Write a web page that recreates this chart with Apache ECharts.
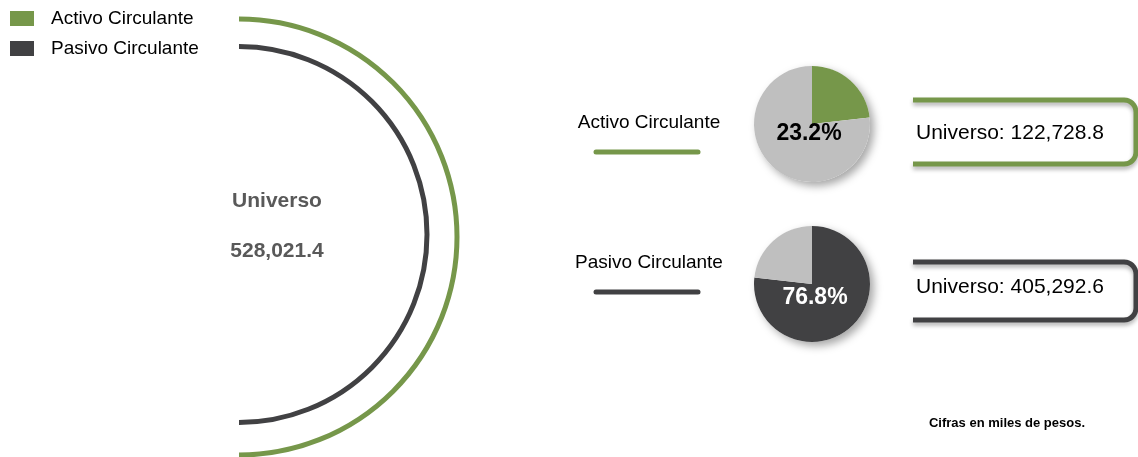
<!DOCTYPE html>
<html>
<head>
<meta charset="utf-8">
<script src="https://cdn.jsdelivr.net/npm/echarts@6/dist/echarts.min.js"></script>
<style>
html,body{margin:0;padding:0;background:#fff;}
#chart{width:1138px;height:457px;}
</style>
</head>
<body>
<div id="chart"></div>
<script>
// ---- data ----
const categories = ['Activo Circulante', 'Pasivo Circulante'];
const sharePct = [23.2, 76.8];
const universoValues = [122728.8, 405292.6];
const universoTotal = 528021.4;
const totalLabel = 'Universo';
const footnote = 'Cifras en miles de pesos.';

// ---- style ----
const GREEN = '#76974A';
const DARK = '#414143';
const GREY = '#BFBFBF';
const FONT = "'Liberation Sans', Arial, sans-serif";
const fmt = v => v.toLocaleString('en-US', {minimumFractionDigits: 1, maximumFractionDigits: 1});

const chart = echarts.init(document.getElementById('chart'));

function bracketPoints(top, bottom) {
  const l = 913, r = 1136, rad = 12;
  const pts = [[l, top], [r - rad, top]];
  for (let k = 1; k <= 8; k++) {
    const a = -Math.PI / 2 + (Math.PI / 2) * k / 8;
    pts.push([r - rad + rad * Math.cos(a), top + rad + rad * Math.sin(a)]);
  }
  pts.push([r, bottom - rad]);
  for (let k = 1; k <= 8; k++) {
    const a = (Math.PI / 2) * k / 8;
    pts.push([r - rad + rad * Math.cos(a), bottom - rad + rad * Math.sin(a)]);
  }
  pts.push([l, bottom]);
  return pts;
}

const pieCenters = [[812, 124], [812, 284]];
const pieR = 58;

const series = [];
// shadow discs
pieCenters.forEach(c => {
  series.push({
    type: 'pie', silent: true, center: c, radius: pieR, z: 1,
    label: {show: false}, labelLine: {show: false},
    itemStyle: {color: '#ffffff', shadowBlur: 8, shadowOffsetX: 4, shadowOffsetY: 4, shadowColor: 'rgba(0,0,0,0.35)'},
    data: [{name: '_s', value: 1}]
  });
});
// pie 1: Activo
series.push({
  type: 'pie', center: pieCenters[0], radius: pieR, startAngle: 90, clockwise: true, z: 2,
  emphasis: {disabled: true}, silent: true,
  labelLine: {show: false},
  label: {show: false},
  itemStyle: {borderWidth: 0},
  data: [
    {name: categories[0], value: sharePct[0], itemStyle: {color: GREEN},
     label: {show: true, position: 'center', formatter: sharePct[0].toFixed(1) + '%', color: '#000', fontSize: 23, fontWeight: 'bold', fontFamily: FONT, offset: [-3, 10]}},
    {name: 'Resto', value: sharePct[1], itemStyle: {color: GREY}}
  ]
});
// pie 2: Pasivo
series.push({
  type: 'pie', center: pieCenters[1], radius: pieR, startAngle: 90, clockwise: true, z: 2,
  emphasis: {disabled: true}, silent: true,
  labelLine: {show: false},
  label: {show: false},
  itemStyle: {borderWidth: 0},
  data: [
    {name: categories[1], value: sharePct[1], itemStyle: {color: DARK},
     label: {show: true, position: 'center', formatter: sharePct[1].toFixed(1) + '%', color: '#fff', fontSize: 23, fontWeight: 'bold', fontFamily: FONT, offset: [3, 14]}},
    {name: 'Resto2', value: sharePct[0], itemStyle: {color: GREY}}
  ]
});

const graphics = [
  // big arcs
  {type: 'arc', shape: {cx: 239, cy: 237, r: 218, startAngle: -Math.PI / 2, endAngle: Math.PI / 2, clockwise: true},
   style: {stroke: GREEN, lineWidth: 5, fill: null}},
  {type: 'arc', shape: {cx: 239, cy: 234.5, r: 188, startAngle: -Math.PI / 2, endAngle: Math.PI / 2, clockwise: true},
   style: {stroke: DARK, lineWidth: 5, fill: null}},
  // centre text
  {type: 'text', x: 277, y: 201, style: {text: totalLabel, font: `bold 21px ${FONT}`, fill: '#595959', align: 'center', verticalAlign: 'middle', textAlign: 'center', textVerticalAlign: 'middle'}},
  {type: 'text', x: 277, y: 251, style: {text: fmt(universoTotal), font: `bold 21px ${FONT}`, fill: '#595959', align: 'center', verticalAlign: 'middle', textAlign: 'center', textVerticalAlign: 'middle'}},
  // footnote
  {type: 'text', x: 1007, y: 423, style: {text: footnote, font: `bold 13px ${FONT}`, fill: '#000', align: 'center', verticalAlign: 'middle', textAlign: 'center', textVerticalAlign: 'middle'}}
];

const rowY = [{label: 123, line: 152, bTop: 100, bBot: 164, text: 133}, {label: 263, line: 292, bTop: 262, bBot: 320, text: 287}];
categories.forEach((cat, i) => {
  const col = i === 0 ? GREEN : DARK;
  const ry = rowY[i];
  graphics.push(
    {type: 'text', x: 649, y: ry.label, style: {text: cat, font: `19px ${FONT}`, fill: '#000', align: 'center', verticalAlign: 'middle', textAlign: 'center', textVerticalAlign: 'middle'}},
    {type: 'line', shape: {x1: 596, y1: ry.line, x2: 698, y2: ry.line}, style: {stroke: col, lineWidth: 5, lineCap: 'round'}},
    {type: 'polyline', shape: {points: bracketPoints(ry.bTop, ry.bBot)},
     style: {stroke: col, lineWidth: 5, fill: null, lineJoin: 'round', shadowBlur: 4, shadowOffsetY: 3, shadowColor: 'rgba(0,0,0,0.3)'}},
    {type: 'text', x: 916, y: ry.text, style: {text: 'Universo: ' + fmt(universoValues[i]), font: `21px ${FONT}`, fill: '#000', align: 'left', verticalAlign: 'middle', textAlign: 'left', textVerticalAlign: 'middle'}}
  );
});

chart.setOption({
  animation: false,
  backgroundColor: '#ffffff',
  legend: {
    data: categories,
    orient: 'vertical', left: 10, top: 9, padding: 0,
    itemWidth: 24, itemHeight: 15, itemGap: 11,
    icon: 'rect', selectedMode: false,
    textStyle: {fontSize: 19, color: '#000', fontFamily: FONT, padding: [0, 0, 0, 12]}
  },
  series: series,
  graphic: graphics
});
</script>
</body>
</html>
